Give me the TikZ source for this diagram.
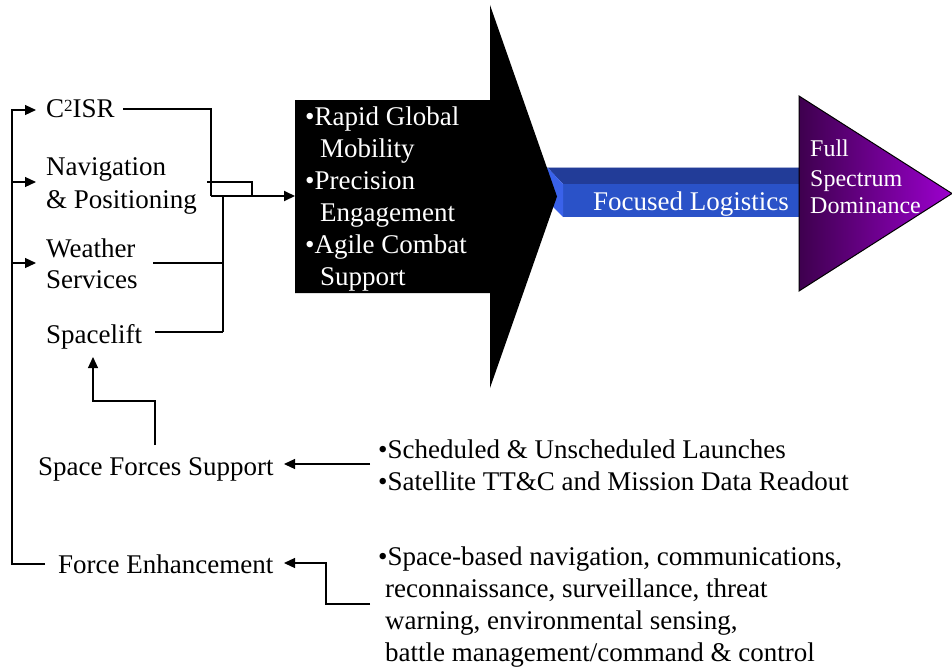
\documentclass[tikz,border=0pt]{standalone}
\usepackage{fontspec}
\setmainfont{Liberation Serif}
\usetikzlibrary{arrows.meta}
\definecolor{bluetop}{HTML}{223C98}
\definecolor{bluefront}{HTML}{2A52C8}
\definecolor{bluebevel}{HTML}{3A62EA}
\definecolor{purpL}{HTML}{3E004E}
\definecolor{purpR}{HTML}{9C00CE}
\begin{document}
\begin{tikzpicture}[x=1pt,y=-1pt,
  txt/.style={inner sep=0pt,anchor=base west,font=\fontsize{27}{32}\selectfont},
  wtxt/.style={txt,text=white},
  smallw/.style={inner sep=0pt,anchor=base west,font=\fontsize{24}{29}\selectfont,text=white},
  conn/.style={line width=1.2pt},
  boldconn/.style={line width=2pt},
  arr/.style={-{Triangle[length=11pt,width=10pt]}}
]
\useasboundingbox (0,0) rectangle (952,669);

% blue bar (Focused Logistics)
\fill[bluetop] (547,167) -- (800,167) -- (800,184) -- (563,184) -- cycle;
\fill[bluefront] (563,184) rectangle (800,217);
\fill[bluebevel] (547,167) -- (563,184) -- (563,217) -- (547,201) -- cycle;
\draw[white!60!bluetop, line width=0.8pt] (547,167) -- (800,167);

% black arrow
\fill[black] (295,100) -- (490,100) -- (490,5) -- (557,196.5) -- (490,388) -- (490,293) -- (295,293) -- cycle;

% purple triangle
\shade[left color=purpL, right color=purpR] (799,96) -- (952,193.5) -- (799,291) -- cycle;
\draw[black, line width=1pt] (799,96) -- (952,193.5) -- (799,291) -- cycle;

% texts left
\node[txt] (c2isr) at (46,117) {C\raisebox{6pt}{\fontsize{17}{17}\selectfont 2}ISR};
\node[txt] (nav1) at (46,175) {Navigation};
\node[txt] (nav2) at (46,208) {\& Positioning};
\node[txt] (wea1) at (46,257) {Weather};
\node[txt] (wea2) at (46,288) {Services};
\node[txt] (spl) at (46,343) {Spacelift};
\node[txt] (sfs) at (38,475) {Space Forces Support};
\node[txt] (fe) at (58,573) {Force Enhancement};

% texts right bottom
\node[txt] (sch1) at (378,458) {•Scheduled \& Unscheduled Launches};
\node[txt] (sch2) at (378,490) {•Satellite TT\&C and Mission Data Readout};
\node[txt] (spb1) at (378,565) {•Space-based navigation, communications,};
\node[txt] (spb2) at (385,597) {reconnaissance, surveillance, threat};
\node[txt] (spb3) at (385,629) {warning, environmental sensing,};
\node[txt] (spb4) at (385,661) {battle management/command \& control};

% black box texts
\node[wtxt] (rg1) at (305,125) {•Rapid Global};
\node[wtxt] (rg2) at (320,157) {Mobility};
\node[wtxt] (pe1) at (305,189) {•Precision};
\node[wtxt] (pe2) at (320,221) {Engagement};
\node[wtxt] (ac1) at (305,253) {•Agile Combat};
\node[wtxt] (ac2) at (320,285) {Support};

% focused logistics
\node[wtxt] (fl) at (593,210) {Focused Logistics};
% full spectrum
\node[smallw] (fs1) at (810,156) {Full};
\node[smallw] (fs2) at (810,186) {Spectrum};
\node[smallw] (fs3) at (810,213) {Dominance};

% connectors into black box
\draw[conn] (123,109) -- (211,109) -- (211,196);
\draw[conn] (207,182) -- (252,182) -- (252,196);
\draw[conn] (153,263) -- (223,263);
\draw[conn] (155,332) -- (223,332);
\draw[boldconn] (223,332) -- (223,196);
\draw[boldconn,arr] (211,196) -- (295,196);

% left bus
\draw[conn] (45,564) -- (12,564) -- (12,109);
\draw[conn,arr] (11.4,110) -- (36,110);
\draw[conn,arr] (12,182) -- (36,182);
\draw[conn,arr] (12,263) -- (36,263);

% spacelift support arrow
\draw[conn,arr] (155,445) -- (155,401) -- (93,401) -- (93,357);

% arrows from bullet lists
\draw[conn,arr] (370,464) -- (284,464);
\draw[conn,arr] (370,604) -- (326,604) -- (326,563) -- (284,563);
\end{tikzpicture}
\end{document}
